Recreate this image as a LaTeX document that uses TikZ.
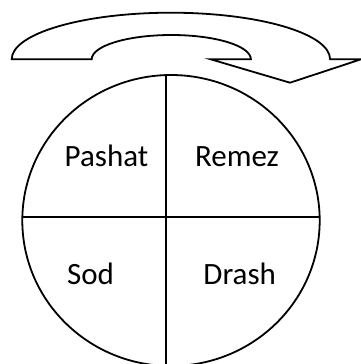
\documentclass[tikz,border=0pt]{standalone}
\usepackage{fontspec}
\setmainfont{Carlito}
\begin{document}
\begin{tikzpicture}[x=1pt,y=-1pt,
  outline/.style={draw=black,line width=1.8pt,line join=miter},
  lbl/.style={anchor=base,inner sep=0pt,font=\fontsize{31}{37}\selectfont}]
\useasboundingbox (0,0) rectangle (361,364);
\clip (0,0) rectangle (361,364);
% curved arrow
\draw[outline] (11.7,59.3) arc[start angle=180,end angle=0,x radius=159.2pt,y radius=46.6pt]
  -- (361,59.3) -- (290,82.7) -- (210.7,59.3) -- (250.9,59.3)
  arc[start angle=0,end angle=180,x radius=79.6pt,y radius=24.3pt] -- cycle;
% ellipse
\coordinate (c) at (171,220.5);
\draw[outline] (c) ellipse[x radius=148.7pt,y radius=145.5pt];
\coordinate (hl) at (22.35,216.7);
\coordinate (hr) at (319.65,216.7);
\coordinate (vt) at (166,75.1);
\coordinate (vb) at (166,370);
\draw[outline] (hl) -- (hr);
\draw[outline] (vt) -- (vb);
\node[lbl] (pashat) at (106.5,166.7) {Pashat};
\node[lbl] (remez) at (237,166.7) {Remez};
\node[lbl] (sod) at (90.5,284.3) {Sod};
\node[lbl] (drash) at (239.7,284.3) {Drash};
\end{tikzpicture}
\end{document}
